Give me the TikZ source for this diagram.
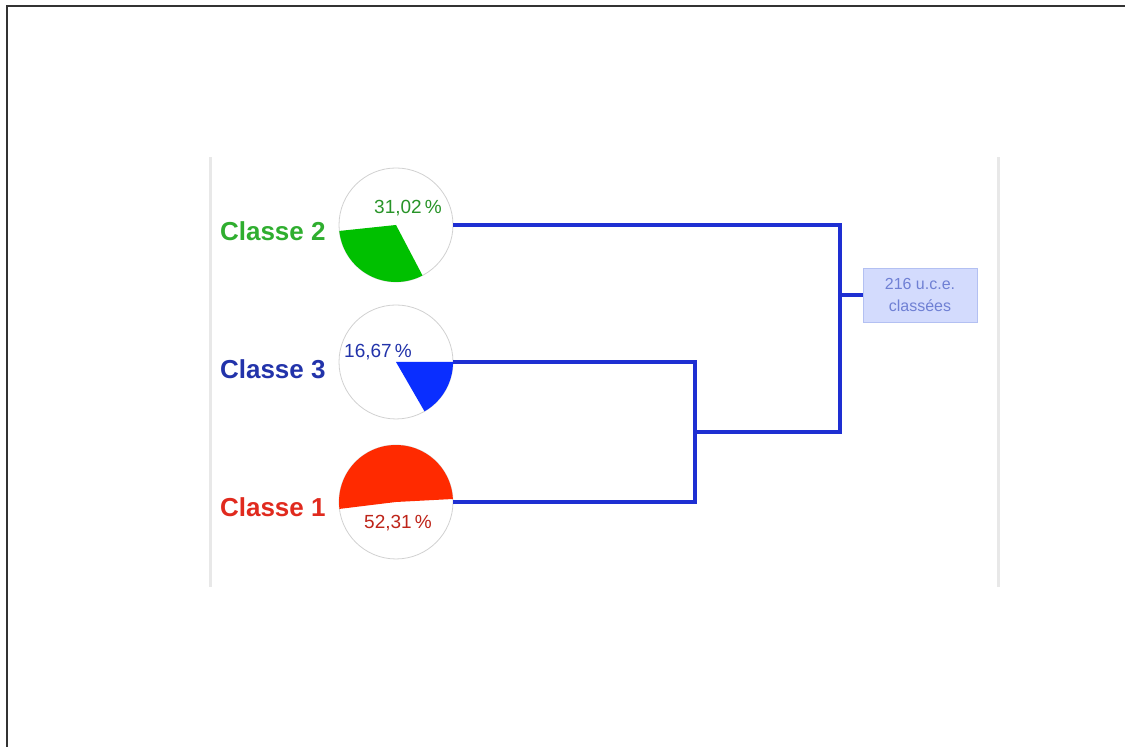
\documentclass[tikz,border=0pt]{standalone}
\usepackage{fontspec}
\setmainfont{Liberation Sans}
\usepackage{xcolor}
\usetikzlibrary{calc, positioning}
\definecolor{vert}{HTML}{2FAE2F}
\definecolor{vertpie}{HTML}{00C000}
\definecolor{bleu}{HTML}{2233AA}
\definecolor{bleupie}{HTML}{0A2EFF}
\definecolor{rouge}{HTML}{E02A1E}
\definecolor{rougepie}{HTML}{FF2A00}
\definecolor{lien}{HTML}{1E2FD2}
\definecolor{boite}{HTML}{D3DBFD}
\definecolor{boitebord}{HTML}{B3C0F2}
\definecolor{boitetexte}{HTML}{6F80D4}

\begin{document}
\begin{tikzpicture}[x=0.5pt, y=0.5pt,
	pie/.style={circle, draw=black!18, fill=white, minimum size=57pt, inner sep=0pt},
	classe/.style={font=\fontsize{13}{15}\selectfont\bfseries, anchor=east, inner sep=0pt},
	pct/.style={font=\fontsize{9.5}{11}\selectfont, inner sep=0pt},
	link/.style={draw=lien, line width=2pt},
	guide/.style={draw=black!9, line width=1.5pt}]
				\useasboundingbox (0,0) rectangle (1125,747);
				\draw[black!80, line width=1.2pt] (7,0) -- (7,741) -- (1125,741);
				\draw[guide] (210,590) -- (210,160);
				\draw[guide] (998,590) -- (998,160);

				\node[pie] (c2) at (396,522) {};
				\node[pie] (c3) at (396,385) {};
				\node[pie] (c1) at (396,245) {};
				\fill[vertpie] (c2.center) -- ++(186:28.5pt) arc[start angle=186, end angle=297.7, radius=28.5pt] -- cycle;
				\fill[bleupie] (c3.center) -- ++(-60:28.5pt) arc[start angle=-60, end angle=0, radius=28.5pt] -- cycle;
				\fill[rougepie] (c1.center) -- ++(3:28.5pt) arc[start angle=3, end angle=187, radius=28.5pt] -- cycle;
				\node[pct, text=vert!85!black] (p2) at (408,539) {31,02\,\%};
				\node[pct, text=bleu] (p3) at (378,395) {16,67\,\%};
				\node[pct, text=rouge!85!black] (p1) at (398,224) {52,31\,\%};

				\node[classe, text=vert] (l2) at (326,516) {Classe 2};
				\node[classe, text=bleu] (l3) at (326,378) {Classe 3};
				\node[classe, text=rouge] (l1) at (326,240) {Classe 1};

				\node[fill=boite, draw=boitebord, minimum width=57pt, minimum height=27pt, inner sep=0pt,
					align=center, text=boitetexte, font=\fontsize{8}{11}\selectfont] (total) at (920,452) {216 u.c.e.\\classées};

				\coordinate (j13) at (695,315);
				\coordinate (root) at (840,452);
				\draw[link] (c3.east) -| (j13) |- (c1.east);
				\draw[link] (c2.east) -| (root) |- (j13);
				\draw[link] (root) -- (total.west);
			\end{tikzpicture}
\end{document}
